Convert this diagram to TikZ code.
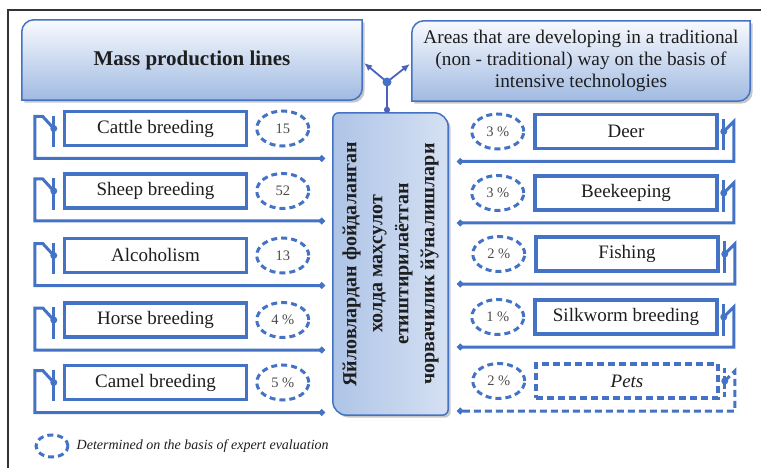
\documentclass[tikz,border=0pt]{standalone}
\usepackage{fontspec}
\setmainfont{Liberation Serif}
\newfontfamily\boxserif{Liberation Serif}
\usetikzlibrary{arrows.meta,positioning,shapes.geometric,backgrounds}

\definecolor{lineblue}{RGB}{68,114,196}
\definecolor{headtop}{RGB}{248,250,254}
\definecolor{headbottom}{RGB}{160,186,226}
\definecolor{inkgray}{RGB}{30,30,30}
\definecolor{numgray}{RGB}{75,75,75}

\tikzset{
	headnode/.style={inner sep=0pt, text=inkgray, align=center},
	headfill/.style={draw=lineblue, line width=1.5pt, top color=headtop, bottom color=headbottom,
		preaction={fill=black!22, transform canvas={xshift=2.5pt,yshift=-2.5pt}}},
	linebox/.style={draw=lineblue, line width=3.5pt, fill=white, minimum width=182pt, minimum height=34pt,
		inner sep=0pt, align=center, text=inkgray, font=\boxserif\fontsize{19}{22}\selectfont},
	shareoval/.style={ellipse, draw=lineblue, line width=3pt, dash pattern=on 6pt off 4pt,
		minimum width=52pt, minimum height=35pt, inner sep=0pt, text=numgray, font=\boxserif\fontsize{14.5}{16}\selectfont},
	link/.style={draw=lineblue, line width=3pt},
	forklink/.style={draw=lineblue!85!violet, line width=1.8pt},
}

\begin{document}
\begin{tikzpicture}[x=1pt,y=-1pt]
	\useasboundingbox (0,0) rectangle (761,468);
	\clip (0,0) rectangle (761,468);
	% Outer frame
	\draw[line width=1.8pt, black!80] (8,10) rectangle (775,480);

	% Headings
	\node[headnode, minimum width=340pt, minimum height=80pt, font=\boxserif\fontsize{21}{24}\selectfont\bfseries] (mass) at (192,60) {Mass production lines};
	\node[headnode, minimum width=338pt, minimum height=80pt, font=\boxserif\fontsize{19.3}{22}\selectfont] (intensive) at (581,61) {Areas that are developing in a traditional\\(non - traditional) way on the basis of\\intensive technologies};

	% Central block, text turned upwards
	\node[minimum width=115pt, minimum height=302pt] (centre) at (390.5,264) {};
	\node[rotate=90, align=center, text=inkgray, font=\boxserif\fontsize{20}{26}\selectfont\bfseries] (centretext) at (centre.center) {Яйловлардан фойдаланган\\холда маҳсулот\\етиштирилаётган\\чорвачилик йўналишлари};

	\begin{scope}[on background layer]
		\path[headfill] (mass.west) [rounded corners=12pt] -- (mass.north west) [sharp corners] -- (mass.north east) [rounded corners=12pt] -- (mass.south east) [sharp corners] -- (mass.south west) -- cycle;
		\path[headfill] (intensive.west) [rounded corners=12pt] -- (intensive.north west) [sharp corners] -- (intensive.north east) [rounded corners=12pt] -- (intensive.south east) [sharp corners] -- (intensive.south west) -- cycle;
		\path[headfill, left color=headbottom!85, right color=headtop!60!headbottom] (centre.west) [rounded corners=6pt] -- (centre.north west) [rounded corners=14pt] -- (centre.north east) [rounded corners=6pt] -- (centre.south east) [rounded corners=14pt] -- (centre.south west) [sharp corners] -- cycle;
	\end{scope}

	% Lines on both sides
	\node[linebox] (cattle) at (155.5,128.5) {Cattle breeding};
	\node[linebox] (sheep) at (155.5,191) {Sheep breeding};
	\node[linebox] (alcohol) at (155.5,255.5) {Alcoholism};
	\node[linebox] (horse) at (155.5,320) {Horse breeding};
	\node[linebox] (camel) at (155.5,382.5) {Camel breeding};
	\node[linebox] (deer) at (626,131.5) {Deer};
	\node[linebox] (bee) at (626,193) {Beekeeping};
	\node[linebox] (fish) at (627,254) {Fishing};
	\node[linebox] (silk) at (626,317) {Silkworm breeding};
	\node[linebox, dash pattern=on 7pt off 4pt, font=\boxserif\fontsize{19}{22}\selectfont\itshape] (pets) at (627,381) {Pets};

	% Shares (expert evaluation)
	\node[shareoval, right=7pt of cattle] (cattleshare) {15};
	\node[shareoval, right=7pt of sheep] (sheepshare) {52};
	\node[shareoval, right=7pt of alcohol] (alcoholshare) {13};
	\node[shareoval, right=7pt of horse] (horseshare) {4 \%};
	\node[shareoval, right=7pt of camel] (camelshare) {5 \%};
	\node[shareoval, left=8pt of deer] (deershare) {3 \%};
	\node[shareoval, left=8pt of bee] (beeshare) {3 \%};
	\node[shareoval, left=8pt of fish] (fishshare) {2 \%};
	\node[shareoval, left=8pt of silk] (silkshare) {1 \%};
	\node[shareoval, left=8pt of pets] (petsshare) {2 \%};

	% Fork between the headings
	\coordinate (fork) at (387,82);
	\draw[forklink, -{Latex[length=8pt,width=7pt]}] (fork) -- ([xshift=2pt,yshift=-3pt]mass.east);
	\draw[forklink, -{Latex[length=8pt,width=7pt]}] (fork) -- ([xshift=-2pt,yshift=-3pt]intensive.west);
	\draw[forklink, -{Circle[length=6pt]}] (fork) -- (fork |- centre.north);
	\fill[lineblue] (fork) circle (4.5pt);

	% Connectors to the central block
	\coordinate (cw) at ([xshift=-8pt]centre.west);
	\coordinate (ce) at ([xshift=9pt]centre.east);
	\foreach \row in {cattle,sheep,alcohol,horse,camel}{
		\draw[link] ([xshift=-9pt,yshift=-6pt]\row.north west) -- ([xshift=-9pt]\row.south west);
		\draw[link, -{Circle[length=6pt]}] ([xshift=-9pt]\row.west) -- ++(-11,-12) -- ++(-8,0) -- ++(0,42) coordinate (\row low) -- (\row low -| cw);
		\fill[lineblue] ([xshift=-9pt]\row.west) circle (3.5pt);
	}
	\foreach \row in {deer,bee,fish,silk}{
		\draw[link] ([xshift=5pt,yshift=-6pt]\row.north east) -- ([xshift=5pt]\row.south east);
		\draw[link, -{Circle[length=6pt]}] ([xshift=5pt]\row.east) -- ++(10,-10) -- ++(0,40) coordinate (\row low) -- (\row low -| ce);
		\fill[lineblue] ([xshift=5pt]\row.east) circle (3.5pt);
	}
	% Pets: dashed
	\draw[link, dash pattern=on 5pt off 3pt] ([xshift=5pt,yshift=-6pt]pets.north east) -- ([xshift=5pt]pets.south east);
	\draw[link, dash pattern=on 7pt off 4pt, -{Circle[length=6pt]}] ([xshift=5pt]pets.east) -- ++(10,-10) -- ++(0,40) coordinate (petslow) -- (petslow -| ce);
	\fill[lineblue] ([xshift=5pt]pets.east) circle (3.5pt);

	% Legend
	\node[shareoval, minimum width=32pt, minimum height=22pt] (keyoval) at (52,446) {};
	\node[right=7pt of keyoval, inner sep=0pt, text=inkgray, font=\boxserif\fontsize{14}{16}\selectfont\itshape] (keytext) {Determined on the basis of expert evaluation};
\end{tikzpicture}
\end{document}
